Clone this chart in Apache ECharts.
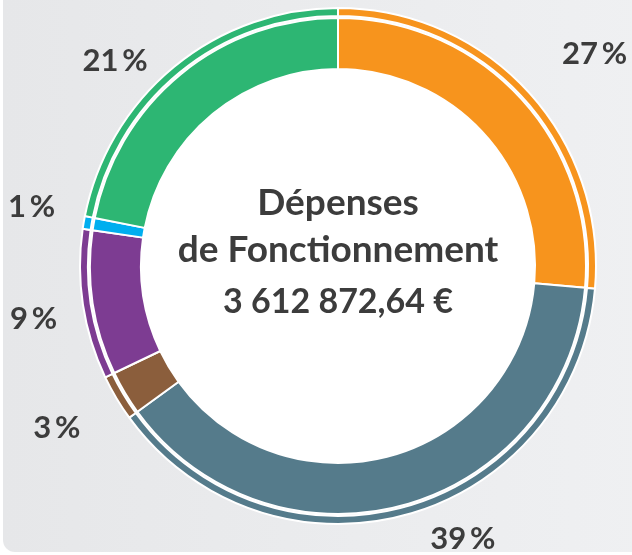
<!DOCTYPE html>
<html>
<head>
<meta charset="utf-8">
<script src="https://cdn.jsdelivr.net/npm/echarts@6/dist/echarts.min.js"></script>
<style>
  html, body { margin: 0; padding: 0; background: #fff; }
  #chart { width: 632px; height: 555px; }
</style>
</head>
<body>
<div id="chart"></div>
<script>
// parts of the budget, clockwise from the top
var categories = ['Orange', 'Ardoise', 'Marron', 'Violet', 'Bleu', 'Vert'];
// slice sizes as drawn in the picture (in %)
var shares = [26.4, 38.6, 2.9, 9.4, 0.8, 21.9];
// percent labels as printed
var percentLabels = ['27', '39', '3', '9', '1', '21'];
var colors = ['#f7941d', '#557b8b', '#8b5e3c', '#7d3c92', '#00aeef', '#2db673'];
var titleLines = ['Dépenses', 'de Fonctionnement'];
var total = '3 612 872,64 €';

// little nudges for the outer percent labels (dx, dy)
var labelNudge = [[22, 3], [40, -33], [-8, -1], [10, 5], [7, -5], [-21, 41]];

var cx = 338, cy = 266;
var txtColor = '#3c3c3c';

var pieData = categories.map(function (name, i) {
    return { name: name, value: shares[i], itemStyle: { color: colors[i] } };
});
var labelData = categories.map(function (name, i) {
    return { name: name, value: shares[i] };
});

var chart = echarts.init(document.getElementById('chart'));
chart.setOption({
    animation: false,
    graphic: [
        {
            type: 'rect', z: -10, silent: true,
            shape: { x: 3, y: -12, width: 640, height: 564, r: 12 },
            style: {
                fill: new echarts.graphic.LinearGradient(0, 0, 1, 0, [
                    { offset: 0, color: '#e6e7e9' },
                    { offset: 1, color: '#eff0f2' }
                ])
            }
        },
        {
            type: 'circle', z: -5, silent: true,
            shape: { cx: cx, cy: cy, r: 198 },
            style: { fill: '#fff' }
        },
        {
            type: 'text', x: cx, y: 203, z: 10,
            style: { text: titleLines[0], font: 'bold 37px Lato', fill: txtColor, align: 'center', verticalAlign: 'middle' }
        },
        {
            type: 'text', x: cx, y: 250, z: 10,
            style: { text: titleLines[1], font: 'bold 37px Lato', fill: txtColor, align: 'center', verticalAlign: 'middle' }
        },
        {
            type: 'text', x: cx, y: 302, z: 10,
            style: { text: total, font: 'bold 34px Lato', fill: txtColor, align: 'center', verticalAlign: 'middle' }
        }
    ],
    series: [
        {
            type: 'pie',
            center: [cx, cy],
            radius: [197, 248],
            startAngle: 90,
            clockwise: true,
            silent: true,
            label: { show: false },
            itemStyle: { borderColor: '#fff', borderWidth: 2 },
            data: pieData
        },
        {
            type: 'pie',
            center: [cx, cy],
            radius: [250, 258],
            startAngle: 90,
            clockwise: true,
            silent: true,
            label: { show: false },
            itemStyle: { borderColor: '#fff', borderWidth: 2 },
            data: pieData
        },
        {
            // transparent ring that only carries the percent labels
            type: 'pie',
            center: [cx, cy],
            radius: [300, 330],
            startAngle: 90,
            clockwise: true,
            silent: true,
            itemStyle: { color: 'rgba(0,0,0,0)', borderWidth: 0 },
            label: {
                show: true,
                position: 'inside',
                formatter: function (p) { return percentLabels[p.dataIndex] + '\u2009%'; },
                fontFamily: 'Lato',
                fontWeight: 'bold',
                fontSize: 31,
                color: txtColor
            },
            labelLine: { show: false },
            labelLayout: function (p) {
                var n = labelNudge[p.dataIndex];
                return { dx: n[0], dy: n[1] };
            },
            data: labelData
        }
    ]
});
</script>
</body>
</html>
